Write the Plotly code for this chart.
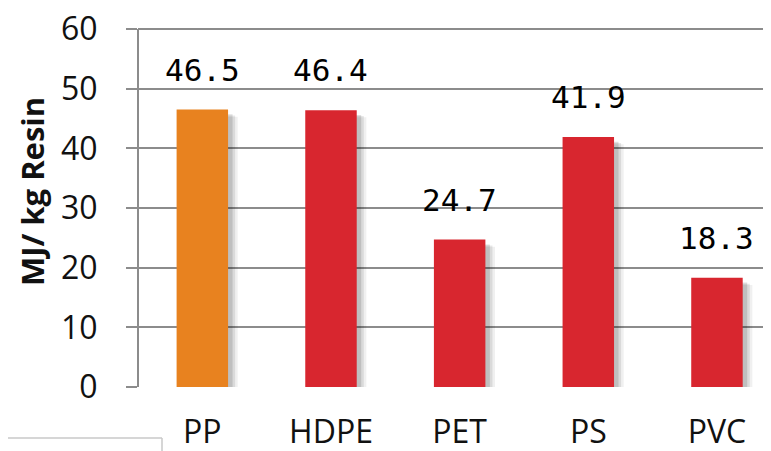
import plotly.graph_objects as go

categories = ["PP", "HDPE", "PET", "PS", "PVC"]
values = [46.5, 46.4, 24.7, 41.9, 18.3]
value_labels = ["46.5", "46.4", "24.7", "41.9", "18.3"]
bar_colors = ["#E8821F", "#D8262F", "#D8262F", "#D8262F", "#D8262F"]
y_ticks = [0, 10, 20, 30, 40, 50, 60]
y_title = "MJ/ kg Resin"

# page body has an 8px margin, so the figure is 8px smaller and offset
OFF = 8
W, H = 771 - OFF, 451 - OFF
Y_TOP = 60.5
ML, MR, MT, MB = 138 - OFF, 0, 26 - OFF, 451 - 387
PW, PH = W - ML - MR, H - MT - MB

fig = go.Figure()

# soft drop shadow behind bars
for off, alpha, drop in [(0.075, 0.06, 1.2), (0.055, 0.09, 1.0), (0.035, 0.12, 0.8)]:
    fig.add_trace(go.Bar(
        x=categories, y=[v - drop for v in values], width=0.4, offset=-0.2 + off,
        marker=dict(color=f"rgba(0,0,0,{alpha})", line=dict(width=0)),
        hoverinfo="skip", showlegend=False,
    ))

fig.add_trace(go.Bar(
    x=categories, y=values, width=0.4, offset=-0.2,
    marker=dict(color=bar_colors, line=dict(width=0)),
    showlegend=False,
))

for c, v, t in zip(categories, values, value_labels):
    fig.add_annotation(x=c, y=v, text=t, showarrow=False, yanchor="middle", yshift=40,
                       font=dict(family="DejaVu Sans Mono", size=31, color="#000000"))

fig.add_annotation(xref="paper", yref="paper", x=(32 - 138) / PW, y=(387 - 192) / PH,
                   text="<b>" + y_title + "</b>", textangle=-90, showarrow=False,
                   xanchor="center", yanchor="middle",
                   font=dict(family="Open Sans", size=31, color="#111111"))

# light frame fragment at bottom-left
fig.add_shape(type="line", xref="paper", yref="paper",
              x0=(0 - 138) / PW, x1=(162 - 138) / PW, y0=(387 - 438) / PH, y1=(387 - 438) / PH,
              line=dict(color="#c8c8c8", width=1.5))
fig.add_shape(type="line", xref="paper", yref="paper",
              x0=(162 - 138) / PW, x1=(162 - 138) / PW, y0=(387 - 438) / PH, y1=(387 - 460) / PH,
              line=dict(color="#c8c8c8", width=1.5))

fig.update_layout(
    width=W, height=H,
    margin=dict(l=ML, r=MR, t=MT, b=MB, autoexpand=False),
    paper_bgcolor="white", plot_bgcolor="white",
    barmode="overlay",
    xaxis=dict(range=[-0.5, 4.42], showgrid=False, ticks="", showline=False, automargin=False,
               tickfont=dict(family="Open Sans", size=32, color="#111111"),
               ticklabelstandoff=23, zeroline=False, ticklabeloverflow="allow"),
    yaxis=dict(range=[0, Y_TOP], tickvals=y_ticks, showgrid=True, gridcolor="#8c8c8c", gridwidth=2,
               ticks="outside", ticklen=11, tickcolor="#8c8c8c", tickwidth=2, automargin=False,
               showline=False, zeroline=False,
               tickfont=dict(family="Open Sans", size=32, color="#111111"),
               ticklabelstandoff=22, ticklabeloverflow="allow"),
)

# vertical axis line from 0 to the top tick
fig.add_shape(type="line", xref="paper", yref="y", x0=0, x1=0, y0=y_ticks[0], y1=y_ticks[-1],
              line=dict(color="#8c8c8c", width=2))

fig.write_html("out.html")
